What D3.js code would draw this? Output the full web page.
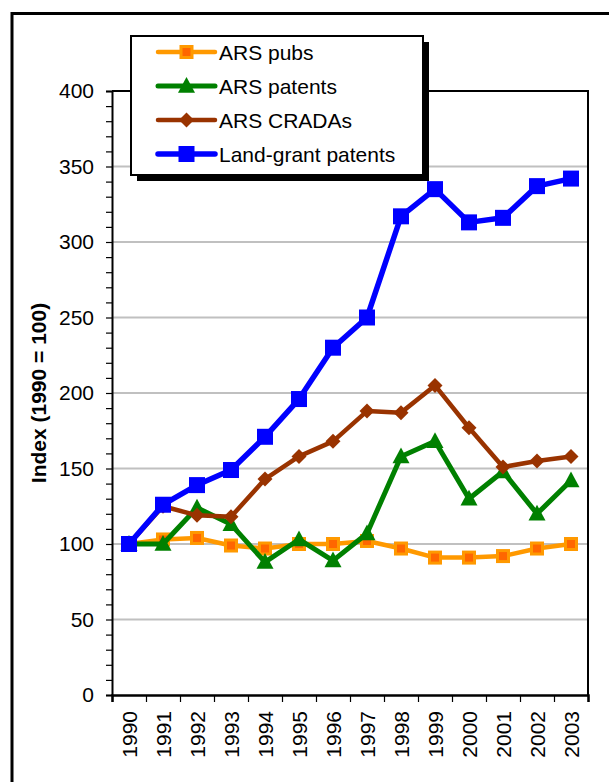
<!DOCTYPE html>
<html>
<head>
<meta charset="utf-8">
<script src="https://cdn.jsdelivr.net/npm/d3@7"></script>
<style>
  html, body { margin: 0; padding: 0; background: #fff; }
  svg { display: block; font-family: "Liberation Sans", Arial, Helvetica, sans-serif; }
</style>
</head>
<body>
<svg id="chart" width="609" height="782"></svg>
<script>
const years = ["1990","1991","1992","1993","1994","1995","1996","1997","1998","1999","2000","2001","2002","2003"];
const arsPubs = [100,103,104,99,97,100,100,102,97,91,91,92,97,100];
const arsPatents = [100,100,124,113,88,103,89,107,158,168,130,148,120,142];
const arsCradas = [100,125,119,118,143,158,168,188,187,205,177,151,155,158];
const landGrantPatents = [100,126,139,149,171,196,230,250,317,335,313,316,337,342];
const yMajorTicks = [0,50,100,150,200,250,300,350,400];
const seriesNames = ["ARS pubs","ARS patents","ARS CRADAs","Land-grant patents"];
const yTitle = "Index (1990 = 100)";

const series = [
  {name: seriesNames[0], values: arsPubs, line: "#ff9900", width: 4.5, marker: "square", size: 11, fill: "#ff6600", stroke: "#ff9900", sw: 3},
  {name: seriesNames[1], values: arsPatents, line: "#008000", width: 5, marker: "triangle", size: 16, fill: "#008000", stroke: "none", sw: 0},
  {name: seriesNames[2], values: arsCradas, line: "#993300", width: 4.5, marker: "diamond", size: 15, fill: "#993300", stroke: "none", sw: 0},
  {name: seriesNames[3], values: landGrantPatents, line: "#0000ff", width: 5.5, marker: "square", size: 16, fill: "#0000ff", stroke: "none", sw: 0}
];

const FF = "'Liberation Sans', Arial, sans-serif";
const svg = d3.select("#chart");
const L = 112, R = 588, T = 91, B = 695;
const x = d3.scaleBand().domain(years).range([L, R]);
const xEdges = d3.scaleLinear().domain([0, years.length]).range([L, R]);
const y = d3.scaleLinear().domain([0, 400]).range([B, T]);
const FONT = 21;

// outer frame
svg.append("rect").attr("x", 12).attr("y", 13.5).attr("width", 800).attr("height", 900)
  .attr("fill", "none").attr("stroke", "#000").attr("stroke-width", 3);

// gridlines
svg.append("g").selectAll("line").data(yMajorTicks.filter(d => d > 0 && d < 400)).join("line")
  .attr("x1", L).attr("x2", R).attr("y1", d => y(d)).attr("y2", d => y(d))
  .attr("stroke", "#c0c0c0").attr("stroke-width", 2);

// plot border (top and right)
svg.append("path").attr("d", `M${L},${T}H${R}V${B}`).attr("fill", "none")
  .attr("stroke", "#000").attr("stroke-width", 2);

// y axis
const yAxis = svg.append("g").attr("transform", `translate(${L},0)`)
  .call(d3.axisLeft(y).tickValues(d3.range(0, 401, 10)).tickSize(6).tickPadding(12)
    .tickFormat(d => d % 50 === 0 ? d : ""));
yAxis.select(".domain").attr("stroke", "#000").attr("stroke-width", 2);
yAxis.selectAll(".tick line").attr("stroke", "#000").attr("stroke-width", 1.2);
yAxis.selectAll("text").attr("font-size", FONT).attr("fill", "#000").attr("font-family", FF);

// x axis ticks at band edges
const xTicks = svg.append("g").attr("transform", `translate(0,${B})`)
  .call(d3.axisBottom(xEdges).tickValues(d3.range(0, years.length + 1)).tickSize(7).tickFormat(""));
xTicks.select(".domain").attr("stroke", "#000").attr("stroke-width", 2.5);
xTicks.selectAll(".tick line").attr("stroke", "#000").attr("stroke-width", 1.2);

// x labels
const xLab = svg.append("g").attr("transform", `translate(0,${B})`)
  .call(d3.axisBottom(x).tickSize(0));
xLab.select(".domain").remove();
xLab.selectAll("text")
  .attr("transform", "rotate(-90)").attr("x", -16).attr("y", 0).attr("dy", "0.36em")
  .style("text-anchor", "end").attr("font-size", FONT).attr("fill", "#000")
  .attr("font-family", FF);

// y title
svg.append("text").attr("transform", `translate(38,${(T + B) / 2}) rotate(-90)`)
  .attr("text-anchor", "middle").attr("dominant-baseline", "central")
  .attr("font-family", FF).attr("font-size", FONT).attr("font-weight", "bold").text(yTitle);

function drawMarker(g, s, cx, cy) {
  const h = s.size / 2;
  if (s.marker === "square") {
    g.append("rect").attr("x", cx - h).attr("y", cy - h).attr("width", s.size).attr("height", s.size)
      .attr("fill", s.fill).attr("stroke", s.stroke).attr("stroke-width", s.sw);
  } else if (s.marker === "triangle") {
    const w = s.size + 1, ht = s.size - 1;
    g.append("path").attr("d", `M${cx},${cy - ht * 0.6}L${cx + w / 2},${cy + ht * 0.45}L${cx - w / 2},${cy + ht * 0.45}Z`)
      .attr("fill", s.fill);
  } else if (s.marker === "diamond") {
    g.append("path").attr("d", `M${cx},${cy - h}L${cx + h},${cy}L${cx},${cy + h}L${cx - h},${cy}Z`)
      .attr("fill", s.fill);
  }
}

const line = d3.line().x((d, i) => x(years[i]) + x.bandwidth() / 2).y(d => y(d));
series.forEach(s => {
  const g = svg.append("g");
  g.append("path").attr("d", line(s.values)).attr("fill", "none")
    .attr("stroke", s.line).attr("stroke-width", s.width).attr("stroke-linejoin", "round");
  s.values.forEach((v, i) => drawMarker(g, s, x(years[i]) + x.bandwidth() / 2, y(v)));
});

// legend
const lg = svg.append("g");
lg.append("rect").attr("x", 137).attr("y", 42).attr("width", 292).attr("height", 139).attr("fill", "#000");
lg.append("rect").attr("x", 131).attr("y", 36).attr("width", 292).attr("height", 139)
  .attr("fill", "#fff").attr("stroke", "#000").attr("stroke-width", 2);
series.forEach((s, i) => {
  const cy = 52 + i * 34;
  const g = lg.append("g");
  g.append("line").attr("x1", 158).attr("x2", 215).attr("y1", cy).attr("y2", cy)
    .attr("stroke", s.line).attr("stroke-width", s.width).attr("stroke-linecap", "round");
  drawMarker(g, s, 186.5, cy);
  g.append("text").attr("x", 219).attr("y", cy).attr("dominant-baseline", "central")
    .attr("font-family", FF).attr("font-size", FONT).attr("fill", "#000").text(s.name);
});
</script>
</body>
</html>
